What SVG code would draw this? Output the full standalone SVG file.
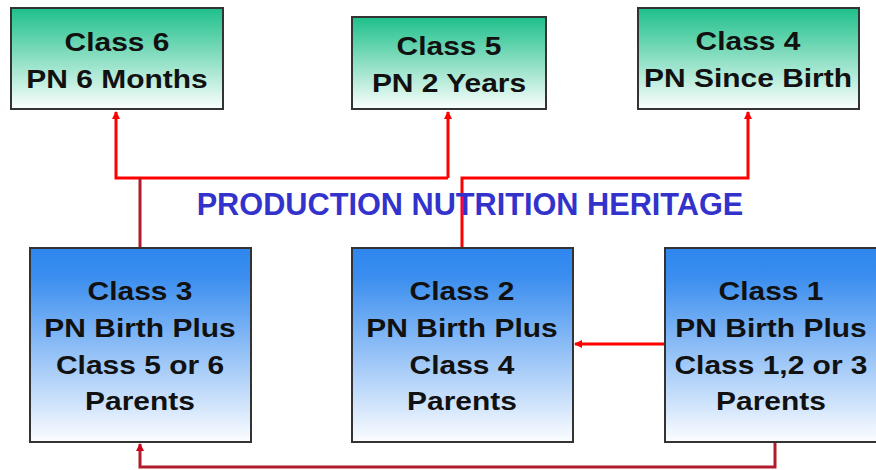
<svg xmlns="http://www.w3.org/2000/svg" width="876" height="470" viewBox="0 0 876 470">
<style>
.box{stroke:#333;stroke-width:2}
.t{font-family:"Liberation Sans",Arial,sans-serif;font-weight:bold;font-size:26.5px;fill:#111;text-anchor:middle}
.title{font-family:"Liberation Sans",Arial,sans-serif;font-weight:bold;font-size:30.7px;fill:#3333cc;text-anchor:middle}
.r{fill:none;stroke:#ff0000;stroke-width:3}
.d{fill:none;stroke:#b01c2c;stroke-width:3}
</style>
<defs>
<linearGradient id="g" x1="0" y1="0" x2="0" y2="1">
<stop offset="0" stop-color="#1dbf8a"/>
<stop offset="1" stop-color="#fbfffd"/>
</linearGradient>
<linearGradient id="b" x1="0" y1="0" x2="0" y2="1">
<stop offset="0" stop-color="#2e86ee"/>
<stop offset="0.15" stop-color="#3b8eef"/>
<stop offset="1" stop-color="#fcfdff"/>
</linearGradient>
<marker id="ar" markerWidth="8" markerHeight="8" refX="7" refY="4" orient="auto" markerUnits="userSpaceOnUse">
<path d="M0,0 L8,4 L0,8 z" fill="#ff0000"/>
</marker>
<marker id="ad" markerWidth="8" markerHeight="8" refX="7" refY="4" orient="auto" markerUnits="userSpaceOnUse">
<path d="M0,0 L8,4 L0,8 z" fill="#d00018"/>
</marker>
</defs>
<rect width="876" height="470" fill="#ffffff"/>
<g id="connectors">
<path class="r" d="M448,178 L116,178 L116,112" marker-end="url(#ar)"/>
<path class="r" d="M448,178 L448,112" marker-end="url(#ar)"/>
<path class="d" d="M140,248 L140,178"/>
<path class="r" d="M462,248 L462,178 L748,178 L748,112" marker-end="url(#ar)"/>
<path class="r" d="M665,344 L575,344" marker-end="url(#ar)"/>
<path class="d" d="M775,443 L775,467 L140,467 L140,444" marker-end="url(#ad)"/>
</g>
<text class="title" x="470" y="215">PRODUCTION NUTRITION HERITAGE</text>
<g id="class6">
<rect class="box" x="11" y="8" width="212" height="101" fill="url(#g)"/>
<g transform="translate(117,0) scale(1.13,1)"><text class="t" x="0" y="51">Class 6</text><text class="t" x="0" y="88">PN 6 Months</text></g>
</g>
<g id="class5">
<rect class="box" x="352" y="17" width="194" height="92" fill="url(#g)"/>
<g transform="translate(449,0) scale(1.13,1)"><text class="t" x="0" y="55">Class 5</text><text class="t" x="0" y="92">PN 2 Years</text></g>
</g>
<g id="class4">
<rect class="box" x="638" y="8" width="221" height="101" fill="url(#g)"/>
<g transform="translate(748,0) scale(1.13,1)"><text class="t" x="0" y="50">Class 4</text><text class="t" x="0" y="87">PN Since Birth</text></g>
</g>
<g id="class3">
<rect class="box" x="30" y="248" width="221" height="194" fill="url(#b)"/>
<g transform="translate(140,0) scale(1.13,1)"><text class="t" x="0" y="300">Class 3</text><text class="t" x="0" y="337">PN Birth Plus</text><text class="t" x="0" y="374">Class 5 or 6</text><text class="t" x="0" y="410">Parents</text></g>
</g>
<g id="class2">
<rect class="box" x="352" y="248" width="221" height="194" fill="url(#b)"/>
<g transform="translate(462,0) scale(1.13,1)"><text class="t" x="0" y="300">Class 2</text><text class="t" x="0" y="337">PN Birth Plus</text><text class="t" x="0" y="374">Class 4</text><text class="t" x="0" y="410">Parents</text></g>
</g>
<g id="class1">
<rect class="box" x="665" y="248" width="221" height="194" fill="url(#b)"/>
<g transform="translate(771,0) scale(1.13,1)"><text class="t" x="0" y="300">Class 1</text><text class="t" x="0" y="337">PN Birth Plus</text><text class="t" x="0" y="374">Class 1,2 or 3</text><text class="t" x="0" y="410">Parents</text></g>
</g>
</svg>
